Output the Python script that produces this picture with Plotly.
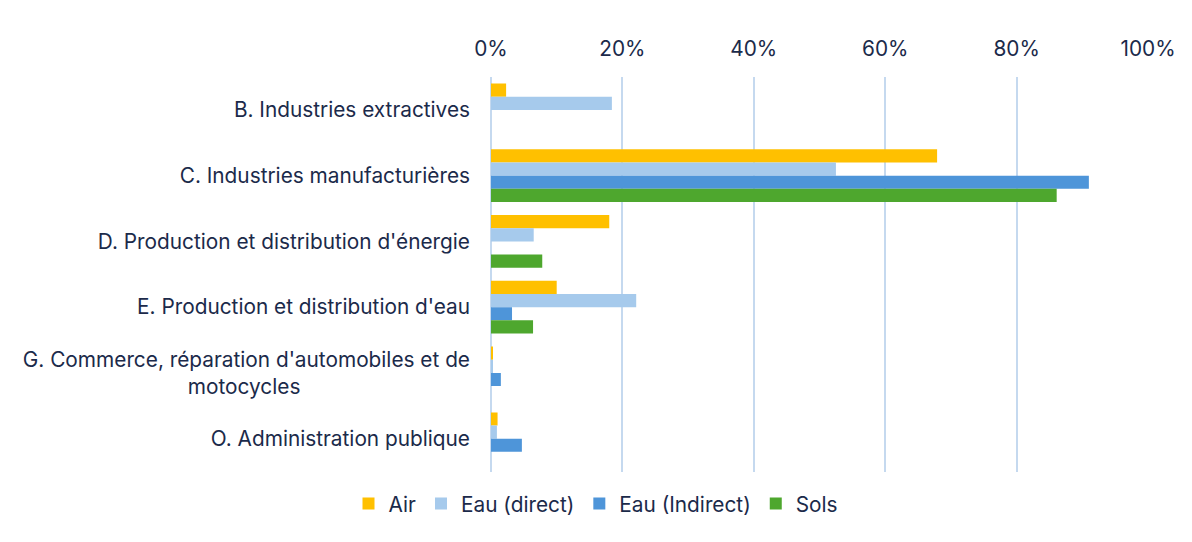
import plotly.graph_objects as go

categories = [
    "B. Industries extractives",
    "C. Industries manufacturières",
    "D. Production et distribution d'énergie",
    "E. Production et distribution d'eau",
    "G. Commerce, réparation d'automobiles et de motocycles",
    "O. Administration publique",
]
tick_labels = [
    "B. Industries extractives",
    "C. Industries manufacturières",
    "D. Production et distribution d'énergie",
    "E. Production et distribution d'eau",
    "G. Commerce, réparation d'automobiles et de<br>motocycles" + "\u00a0" * 29,
    "O. Administration publique",
]
series_names = ["Air", "Eau (direct)", "Eau (Indirect)", "Sols"]
air = [0.023, 0.679, 0.180, 0.100, 0.003, 0.010]
eau_direct = [0.184, 0.525, 0.065, 0.221, 0.002, 0.009]
eau_indirect = [0.0, 0.910, 0.0, 0.032, 0.015, 0.047]
sols = [0.0, 0.861, 0.078, 0.064, 0.0, 0.0]
colors = ["#FFC000", "#A6CAEC", "#4E95D9", "#4EA72E"]

font_color = "#1B2A4A"
fsize = 20.8
fig = go.Figure()
for name, vals, col in zip(series_names, [air, eau_direct, eau_indirect, sols], colors):
    fig.add_trace(go.Bar(y=categories, x=vals, name=name, orientation="h",
                         marker=dict(color=col, line=dict(width=0))))

fig.update_layout(
    width=1192, height=542,
    barmode="group", bargap=0.2, bargroupgap=0,
    paper_bgcolor="white", plot_bgcolor="white",
    margin=dict(l=491, r=44, t=77, b=64),
    font=dict(family="Inter, Lato, sans-serif", size=fsize, color=font_color),
    legend=dict(orientation="h", xref="container", x=0.5, xanchor="center",
                yref="container", y=0.07, yanchor="middle",
                font=dict(size=fsize, color=font_color), traceorder="normal",
                itemwidth=30),
    showlegend=True,
)
fig.update_xaxes(side="top", range=[0, 1], tickvals=[0, 0.2, 0.4, 0.6, 0.8, 1.0],
                 tickformat=".0%", showgrid=True, gridcolor="#C5D9EF", gridwidth=2,
                 zeroline=True, zerolinecolor="#C5D9EF", zerolinewidth=2,
                 showline=False, ticks="", ticklabelstandoff=16,
                 tickfont=dict(size=fsize, color=font_color))
fig.update_yaxes(autorange="reversed", tickvals=categories, ticktext=tick_labels,
                 ticks="", showline=False, ticklabelstandoff=20,
                 tickfont=dict(size=fsize, color=font_color))

fig.write_html("out.html")
